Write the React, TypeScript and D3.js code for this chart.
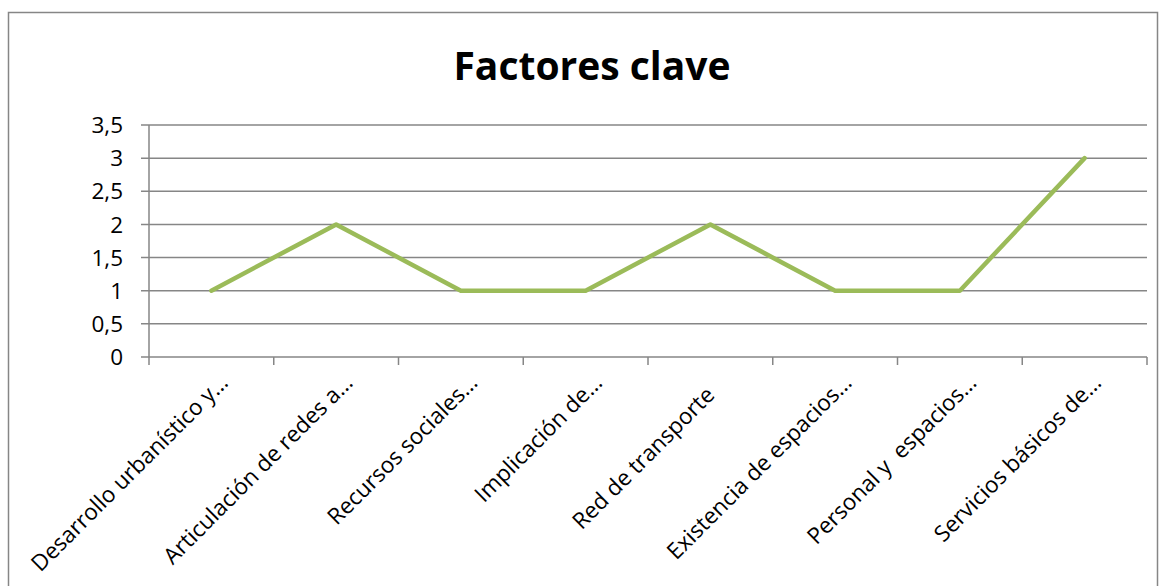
import { useEffect, useRef } from 'react';
import * as d3 from 'd3';

const categories = [
  'Desarrollo urbanístico y…',
  'Articulación de redes a…',
  'Recursos sociales…',
  'Implicación de…',
  'Red de transporte   ',
  'Existencia de espacios…',
  'Personal y  espacios…',
  'Servicios básicos de…',
];
const values = [1, 2, 1, 1, 2, 1, 1, 3];
const yTicks = [0, 0.5, 1, 1.5, 2, 2.5, 3, 3.5];

const W = 1164;
const H = 586;
const FONT = '"Open Sans", Lato, sans-serif';

export default function App() {
  const svgRef = useRef<SVGSVGElement>(null);
  const margin = { top: 125, right: 17, bottom: 229, left: 149 };

  useEffect(() => {
    if (!svgRef.current) return;
    const root = d3.select(svgRef.current);
    root.selectAll('*').remove();

    const innerW = W - margin.left - margin.right;
    const innerH = H - margin.top - margin.bottom;

    // outer frame
    root
      .append('rect')
      .attr('x', 8.5)
      .attr('y', 12.5)
      .attr('width', 1149)
      .attr('height', 600)
      .attr('fill', '#fff')
      .attr('stroke', '#868686')
      .attr('stroke-width', 1.5);

    root
      .append('text')
      .attr('x', 592)
      .attr('y', 80)
      .attr('text-anchor', 'middle')
      .attr('font-family', FONT)
      .attr('font-weight', 'bold')
      .attr('font-size', 39)
      .attr('fill', '#000')
      .text('Factores clave');

    const g = root.append('g').attr('transform', `translate(${margin.left},${margin.top})`);

    const x = d3.scaleBand().domain(categories).range([0, innerW]);
    const y = d3.scaleLinear().domain([0, 3.5]).range([innerH, 0]);

    // gridlines
    g.append('g')
      .selectAll('line')
      .data(yTicks)
      .join('line')
      .attr('x1', -8)
      .attr('x2', innerW)
      .attr('y1', (d) => y(d))
      .attr('y2', (d) => y(d))
      .attr('stroke', '#868686')
      .attr('stroke-width', 1.5);

    // y labels
    g.append('g')
      .selectAll('text')
      .data(yTicks)
      .join('text')
      .attr('x', -26)
      .attr('y', (d) => y(d))
      .attr('dy', '0.36em')
      .attr('text-anchor', 'end')
      .attr('font-family', FONT)
      .attr('font-size', 22.5)
      .attr('fill', '#000')
      .text((d) => String(d).replace('.', ','));

    // y axis line
    g.append('line')
      .attr('x1', 0)
      .attr('x2', 0)
      .attr('y1', 0)
      .attr('y2', innerH)
      .attr('stroke', '#868686')
      .attr('stroke-width', 1.5);

    // x ticks
    const edges = categories.map((c) => x(c) as number).concat([innerW]);
    g.append('g')
      .selectAll('line')
      .data(edges)
      .join('line')
      .attr('x1', (d) => d)
      .attr('x2', (d) => d)
      .attr('y1', innerH)
      .attr('y2', innerH + 8)
      .attr('stroke', '#868686')
      .attr('stroke-width', 1.5);

    // x labels
    g.append('g')
      .selectAll('text')
      .data(categories)
      .join('text')
      .attr('text-anchor', 'end')
      .attr('font-family', FONT)
      .attr('font-size', 22.5)
      .attr('fill', '#000')
      .style('white-space', 'pre')
      .attr('transform', (d) => {
        const cx = (x(d) as number) + x.bandwidth() / 2 + 18;
        return `translate(${cx},${innerH + 27}) rotate(-45)`;
      })
      .text((d) => d);

    // line
    const line = d3
      .line<number>()
      .x((_, i) => (x(categories[i]) as number) + x.bandwidth() / 2)
      .y((d) => y(d));

    g.append('path')
      .datum(values)
      .attr('d', line)
      .attr('fill', 'none')
      .attr('stroke', '#9BBB59')
      .attr('stroke-width', 4.5)
      .attr('stroke-linejoin', 'round')
      .attr('stroke-linecap', 'round');
  }, []);

  return (
    <svg
      ref={svgRef}
      width={W}
      height={H}
      style={{ position: 'absolute', left: 0, top: 0, display: 'block' }}
    />
  );
}
